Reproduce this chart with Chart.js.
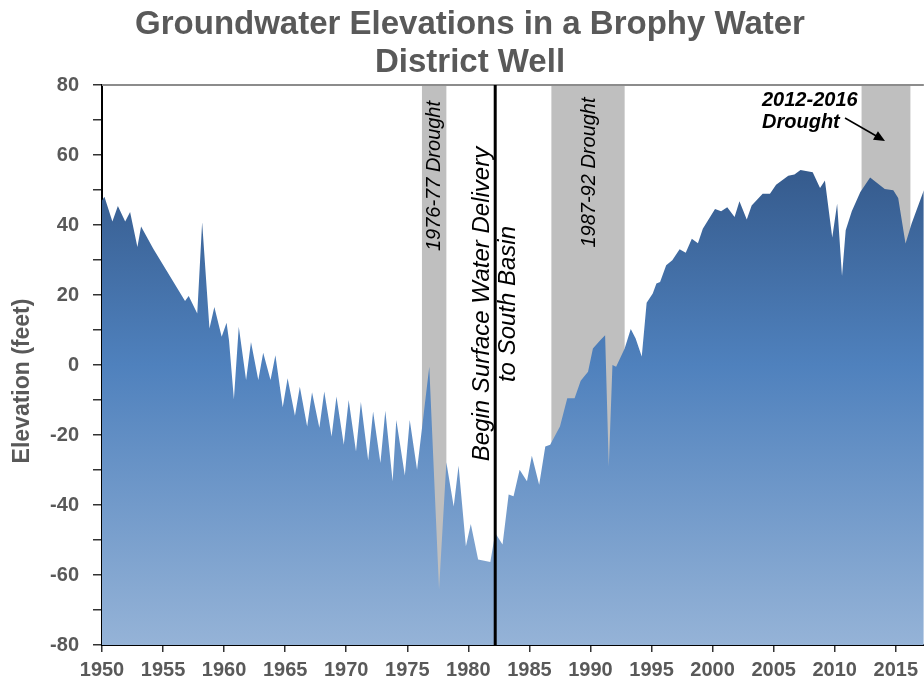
<!DOCTYPE html>
<html>
<head>
<meta charset="utf-8">
<title>Groundwater Elevations in a Brophy Water District Well</title>
<script src="https://cdn.jsdelivr.net/npm/chart.js@4.4.1/dist/chart.umd.min.js"></script>
<style>
  html, body { margin: 0; padding: 0; background: #ffffff; }
  #wrap { width: 924px; height: 682px; position: relative; }
</style>
</head>
<body>
<div id="wrap"><canvas id="gwChart"></canvas></div>
<script>
// well readings (decimal year, elevation in feet)
const years = [
  1950.0, 1950.2, 1950.85, 1951.3, 1951.9, 1952.3, 1952.9, 1953.2, 1954.2, 1956.8,
  1957.1, 1957.8, 1958.2, 1958.8, 1959.2, 1959.8, 1960.2, 1960.4, 1960.8, 1961.2,
  1961.8, 1962.2, 1962.8, 1963.2, 1963.8, 1964.2, 1964.8, 1965.2, 1965.8, 1966.2,
  1966.8, 1967.2, 1967.8, 1968.2, 1968.8, 1969.2, 1969.8, 1970.2, 1970.8, 1971.2,
  1971.8, 1972.2, 1972.8, 1973.2, 1973.8, 1974.1, 1974.8, 1975.2, 1975.8, 1976.8,
  1977.6, 1978.2, 1978.8, 1979.2, 1979.8, 1980.2, 1980.8, 1981.8, 1982.2, 1982.8,
  1983.3, 1983.7, 1984.2, 1984.8, 1985.2, 1985.8, 1986.3, 1986.7, 1987.5, 1988.1,
  1988.7, 1989.2, 1989.8, 1990.2, 1990.8, 1991.2, 1991.5, 1991.8, 1992.1, 1992.8,
  1993.3, 1993.7, 1994.2, 1994.6, 1995.1, 1995.4, 1995.7, 1996.2, 1996.7, 1997.3,
  1997.8, 1998.3, 1998.8, 1999.2, 2000.2, 2000.7, 2001.2, 2001.8, 2002.2, 2002.8,
  2003.2, 2004.1, 2004.7, 2005.2, 2006.2, 2006.7, 2007.2, 2008.2, 2008.8, 2009.2,
  2009.8, 2010.2, 2010.6, 2010.9, 2011.4, 2012.1, 2012.9, 2014.1, 2014.8, 2015.2,
  2015.8, 2016.3, 2017.3
];
const elevations = [
  47.0, 48.1, 41.0, 45.4, 41.0, 43.7, 33.7, 39.6, 33.2, 18.3,
  19.7, 14.7, 40.8, 10.4, 16.6, 8.1, 12.1, 7.1, -9.8, 10.9,
  -4.3, 6.6, -4.3, 3.5, -4.3, 2.8, -12.1, -3.8, -14.5, -6.2,
  -17.6, -7.8, -17.9, -7.6, -20.4, -9.0, -22.8, -10.0, -24.7, -10.6,
  -27.3, -13.3, -28.0, -13.1, -33.2, -15.7, -31.6, -15.7, -29.9, -0.5,
  -64.1, -27.8, -40.4, -28.8, -51.8, -45.4, -55.6, -56.3, -48.0, -51.3,
  -37.0, -37.5, -29.9, -33.2, -25.9, -34.2, -23.3, -22.8, -17.6, -9.5,
  -9.5, -4.5, -1.9, 4.7, 7.1, 8.5, -29.0, 0.0, -0.5, 4.7,
  10.3, 7.6, 2.4, 17.8, 20.4, 23.3, 23.7, 28.5, 29.9, 33.1,
  32.1, 36.1, 34.8, 38.9, 44.6, 43.9, 45.1, 42.3, 46.8, 41.6,
  45.6, 48.9, 48.9, 51.5, 54.1, 54.4, 55.7, 55.1, 50.6, 52.7,
  36.4, 46.1, 25.4, 38.5, 43.9, 49.4, 53.6, 50.3, 49.9, 47.7,
  34.7, 40.4, 49.9
];

// drought periods (grey bands) and the surface water marker
const droughtStart = [1976.2, 1986.8, 2012.2];
const droughtEnd = [1978.2, 1992.8, 2016.2];
const droughtLabels = ['1976-77 Drought', '1987-92 Drought'];
const droughtLabelYears = [1977.2, 1989.9];
const droughtLabelValues = [54.0, 55.0];
const deliveryYear = 1982.2;
const deliveryLines = ['Begin Surface Water Delivery', 'to South Basin'];

const titleLines = ['Groundwater Elevations in a Brophy Water', 'District Well'];
const yTitle = 'Elevation (feet)';
const lastDrought = ['2012-2016', 'Drought'];

const FONT = "'Liberation Sans', Arial, sans-serif";
const GREY_TEXT = '#595959';

// 背景の干ばつ帯
const bandPlugin = {
    id: 'bands',
    beforeDatasetsDraw(chart) {
        const { ctx, chartArea, scales } = chart;
        ctx.save();
        ctx.fillStyle = '#bfbfbf';
        for (let i = 0; i < droughtStart.length; i++) {
            const x0 = scales.x.getPixelForValue(droughtStart[i]);
            const x1 = scales.x.getPixelForValue(droughtEnd[i]);
            ctx.fillRect(x0, chartArea.top, x1 - x0, chartArea.bottom - chartArea.top);
        }
        ctx.restore();
    }
};

// 注記とタイトル
const notePlugin = {
    id: 'notes',
    afterDatasetsDraw(chart) {
        const { ctx, chartArea, scales } = chart;
        ctx.save();

        // top border of plot
        ctx.strokeStyle = '#8c8c8c';
        ctx.lineWidth = 2;
        ctx.beginPath();
        ctx.moveTo(chartArea.left, chartArea.top);
        ctx.lineTo(chartArea.right, chartArea.top);
        ctx.stroke();

        // surface water delivery line
        const lx = scales.x.getPixelForValue(deliveryYear);
        ctx.strokeStyle = '#000000';
        ctx.lineWidth = 3;
        ctx.beginPath();
        ctx.moveTo(lx, chartArea.top);
        ctx.lineTo(lx, chartArea.bottom);
        ctx.stroke();

        ctx.fillStyle = '#000000';
        ctx.textAlign = 'center';
        ctx.textBaseline = 'middle';

        // rotated drought labels
        ctx.font = 'italic 20px ' + FONT;
        for (let i = 0; i < droughtLabels.length; i++) {
            ctx.save();
            ctx.translate(scales.x.getPixelForValue(droughtLabelYears[i]),
                          scales.y.getPixelForValue(droughtLabelValues[i]));
            ctx.rotate(-Math.PI / 2);
            ctx.fillText(droughtLabels[i], 0, 0);
            ctx.restore();
        }

        // delivery text
        ctx.save();
        ctx.font = 'italic 24px ' + FONT;
        ctx.translate(lx, 304);
        ctx.rotate(-Math.PI / 2);
        ctx.fillText(deliveryLines[0], 0, -13);
        ctx.fillText(deliveryLines[1], 0, 13);
        ctx.restore();

        // 2012-2016 label and arrow
        ctx.font = 'italic bold 20px ' + FONT;
        ctx.textAlign = 'left';
        ctx.fillText(lastDrought[0], 762, 100);
        ctx.fillText(lastDrought[1], 762, 122);

        const ax0 = 845, ay0 = 118, ax1 = 885, ay1 = 141;
        const ang = Math.atan2(ay1 - ay0, ax1 - ax0);
        ctx.lineWidth = 1.5;
        ctx.beginPath();
        ctx.moveTo(ax0, ay0);
        ctx.lineTo(ax1 - 8 * Math.cos(ang), ay1 - 8 * Math.sin(ang));
        ctx.stroke();
        ctx.beginPath();
        ctx.moveTo(ax1, ay1);
        ctx.lineTo(ax1 - 11 * Math.cos(ang) + 5 * Math.sin(ang), ay1 - 11 * Math.sin(ang) - 5 * Math.cos(ang));
        ctx.lineTo(ax1 - 11 * Math.cos(ang) - 5 * Math.sin(ang), ay1 - 11 * Math.sin(ang) + 5 * Math.cos(ang));
        ctx.closePath();
        ctx.fill();

        ctx.restore();
    },
    afterDraw(chart) {
        const { ctx } = chart;
        ctx.save();
        ctx.fillStyle = GREY_TEXT;
        ctx.textAlign = 'center';
        ctx.textBaseline = 'middle';
        ctx.font = 'bold 33px ' + FONT;
        ctx.fillText(titleLines[0], 470, 25);
        ctx.fillText(titleLines[1], 470, 63);

        ctx.font = 'bold 23px ' + FONT;
        ctx.translate(23, 381);
        ctx.rotate(-Math.PI / 2);
        ctx.fillText(yTitle, 0, 0);
        ctx.restore();
    }
};

function areaGradient(context) {
    const { ctx, chartArea } = context.chart;
    if (!chartArea) return '#4f81bd';
    const g = ctx.createLinearGradient(0, chartArea.top, 0, chartArea.bottom);
    g.addColorStop(0, '#2a4a78');
    g.addColorStop(0.5, '#4f81bd');
    g.addColorStop(1, '#95b3d7');
    return g;
}

const points = years.map((y, i) => ({ x: y, y: elevations[i] }));

new Chart(document.getElementById('gwChart'), {
    type: 'line',
    data: {
        datasets: [{
            label: 'Groundwater elevation',
            data: points,
            backgroundColor: areaGradient,
            borderWidth: 0,
            pointRadius: 0,
            tension: 0,
            fill: 'start'
        }]
    },
    options: {
        responsive: true,
        maintainAspectRatio: false,
        animation: false,
        layout: { padding: { top: 85, left: 0, right: 0, bottom: 0 } },
        plugins: {
            legend: { display: false },
            tooltip: { enabled: false },
            title: { display: false }
        },
        scales: {
            x: {
                type: 'linear',
                min: 1950,
                max: 2017.3,
                afterFit: s => { s.height = 37; },
                border: { color: '#000000', width: 2 },
                grid: { drawOnChartArea: false, drawTicks: true, tickLength: 7, color: '#333333', lineWidth: 1.5 },
                ticks: {
                    stepSize: 5,
                    includeBounds: false,
                    padding: 6,
                    color: GREY_TEXT,
                    font: { family: FONT, size: 20, weight: 'bold' },
                    maxRotation: 0,
                    callback: v => String(v)
                }
            },
            y: {
                min: -80,
                max: 80,
                afterFit: s => { s.width = 102; },
                border: { color: '#000000', width: 2 },
                grid: { drawOnChartArea: false, drawTicks: true, tickLength: 9, color: '#333333', lineWidth: 1.5 },
                ticks: {
                    stepSize: 10,
                    padding: 14,
                    color: GREY_TEXT,
                    font: { family: FONT, size: 20, weight: 'bold' },
                    callback: v => (v % 20 === 0 ? String(v) : '')
                }
            }
        }
    },
    plugins: [bandPlugin, notePlugin]
});
</script>
</body>
</html>
